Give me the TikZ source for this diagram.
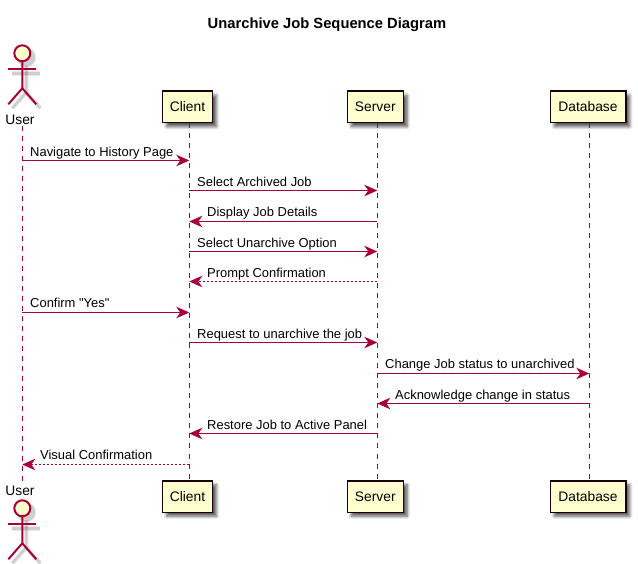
\documentclass[tikz,border=0pt]{standalone}
\usepackage{fontspec}
\setmainfont{Liberation Sans}
\newfontfamily\plainquote{Liberation Sans}
\usetikzlibrary{arrows.meta,shadows.blur}
\definecolor{umlred}{HTML}{A80036}
\definecolor{umlfill}{HTML}{FEFECE}

\tikzset{
  boxpart/.style={draw=black!85!umlred, fill=umlfill, line width=1.5pt, minimum width=50pt, minimum height=31.5pt,
    inner sep=0pt, font=\fontsize{13.8}{15}\selectfont,
    blur shadow={shadow xshift=4pt, shadow yshift=-4pt, shadow blur radius=3pt, shadow blur steps=6, shadow opacity=65}},
  actorname/.style={inner sep=1pt, font=\fontsize{13.8}{15}\selectfont},
  lifeline/.style={umlred, line width=1pt, dash pattern=on 5pt off 5pt},
  msg/.style={umlred, line width=1pt, -{Stealth[length=13pt, width=11.5pt, inset=4pt]}},
  reply/.style={msg, dash pattern=on 2pt off 2pt},
  msgtext/.style={anchor=base west, inner sep=0pt, font=\fontsize{12.95}{15}\selectfont},
  actorfig/.pic={
    % soft shadow first
    \begin{scope}[shift={(4,4)}, black, opacity=0.08, line width=4.5pt]
      \fill (0,0) circle (10);
      \draw (-14,16) -- (14,16);
      \draw (0,8) -- (0,35) -- (-14,51);
      \draw (0,35) -- (14,51);
    \end{scope}
    \begin{scope}[shift={(4,4)}, black, opacity=0.12, line width=2.5pt]
      \fill (0,0) circle (9);
      \draw (-14,16) -- (14,16);
      \draw (0,8) -- (0,35) -- (-14,51);
      \draw (0,35) -- (14,51);
    \end{scope}
    \begin{scope}[umlred, line width=2pt]
      \draw[fill=umlfill] (0,0) circle (8);
      \draw (-14,16) -- (14,16);
      \draw (0,8) -- (0,35) -- (-14,51);
      \draw (0,35) -- (14,51);
    \end{scope}
  }
}

\begin{document}
\begin{tikzpicture}[x=1pt, y=-1pt]
  \useasboundingbox (0,0) rectangle (638,564);

  % Title
  \node[font=\fontsize{14.75}{16}\bfseries\selectfont] (title) at (327,25) {Unarchive Job Sequence Diagram};

  % Participants, top and bottom
  \node[actorname] (userTop) at (20,120) {User};
  \node[actorname] (userBot) at (20,491) {User};
  \node[boxpart] (clientTop) at (187.5,107) {Client};
  \node[boxpart] (clientBot) at (187.5,496.5) {Client};
  \node[boxpart, minimum width=56pt] (serverTop) at (375.3,107) {Server};
  \node[boxpart, minimum width=56pt] (serverBot) at (375.3,496.5) {Server};
  \node[boxpart, minimum width=75.5pt] (dbTop) at (588,107) {Database};
  \node[boxpart, minimum width=75.5pt] (dbBot) at (588,496.5) {Database};

  % Actor figures
  \pic at (22.3,53.3) {actorfig};
  \pic at (22.3,508.3) {actorfig};

  % Lifelines
  \draw[lifeline] ([xshift=2.3pt]userTop.south) -- ([xshift=2.3pt]userBot.north);
  \draw[lifeline] ([xshift=1.8pt]clientTop.south) -- ([xshift=1.8pt]clientBot.north);
  \draw[lifeline] ([xshift=2pt]serverTop.south) -- ([xshift=2pt]serverBot.north);
  \draw[lifeline] ([xshift=1.3pt]dbTop.south) -- ([xshift=1.3pt]dbBot.north);

  % Message rows on each lifeline
  \foreach \row/\ypos in {1/160.5,2/190.5,3/221.5,4/251.5,5/281.5,6/312.5,7/342.5,8/373.5,9/403.5,10/433.5,11/464.5} {
    \coordinate (user\row) at (22.3,\ypos);
    \coordinate (client\row) at (189.3,\ypos);
    \coordinate (server\row) at (377.3,\ypos);
    \coordinate (db\row) at (589.3,\ypos);
  }

  % Messages
  \draw[msg] (user1) -- (client1);
  \node[msgtext] (text1) at (30,156.5) {Navigate to History Page};
  \draw[msg] (client2) -- (server2);
  \node[msgtext] (text2) at (197,186.5) {Select Archived Job};
  \draw[msg] (server3) -- (client3);
  \node[msgtext] (text3) at (207,216.5) {Display Job Details};
  \draw[msg] (client4) -- (server4);
  \node[msgtext] (text4) at (197,247.5) {Select Unarchive Option};
  \draw[reply] (server5) -- (client5);
  \node[msgtext] (text5) at (207,277.5) {Prompt Confirmation};
  \draw[msg] (user6) -- (client6);
  \node[msgtext] (text6) at (30,307.5) {\plainquote Confirm "Yes"};
  \draw[msg] (client7) -- (server7);
  \node[msgtext] (text7) at (197,338.5) {Request to unarchive the job};
  \draw[msg] (server8) -- (db8);
  \node[msgtext] (text8) at (385,368.5) {Change Job status to unarchived};
  \draw[msg] (db9) -- (server9);
  \node[msgtext] (text9) at (395,399.5) {Acknowledge change in status};
  \draw[msg] (server10) -- (client10);
  \node[msgtext] (text10) at (207,429.5) {Restore Job to Active Panel};
  \draw[reply] (client11) -- (user11);
  \node[msgtext] (text11) at (40,459.5) {Visual Confirmation};
\end{tikzpicture}
\end{document}
